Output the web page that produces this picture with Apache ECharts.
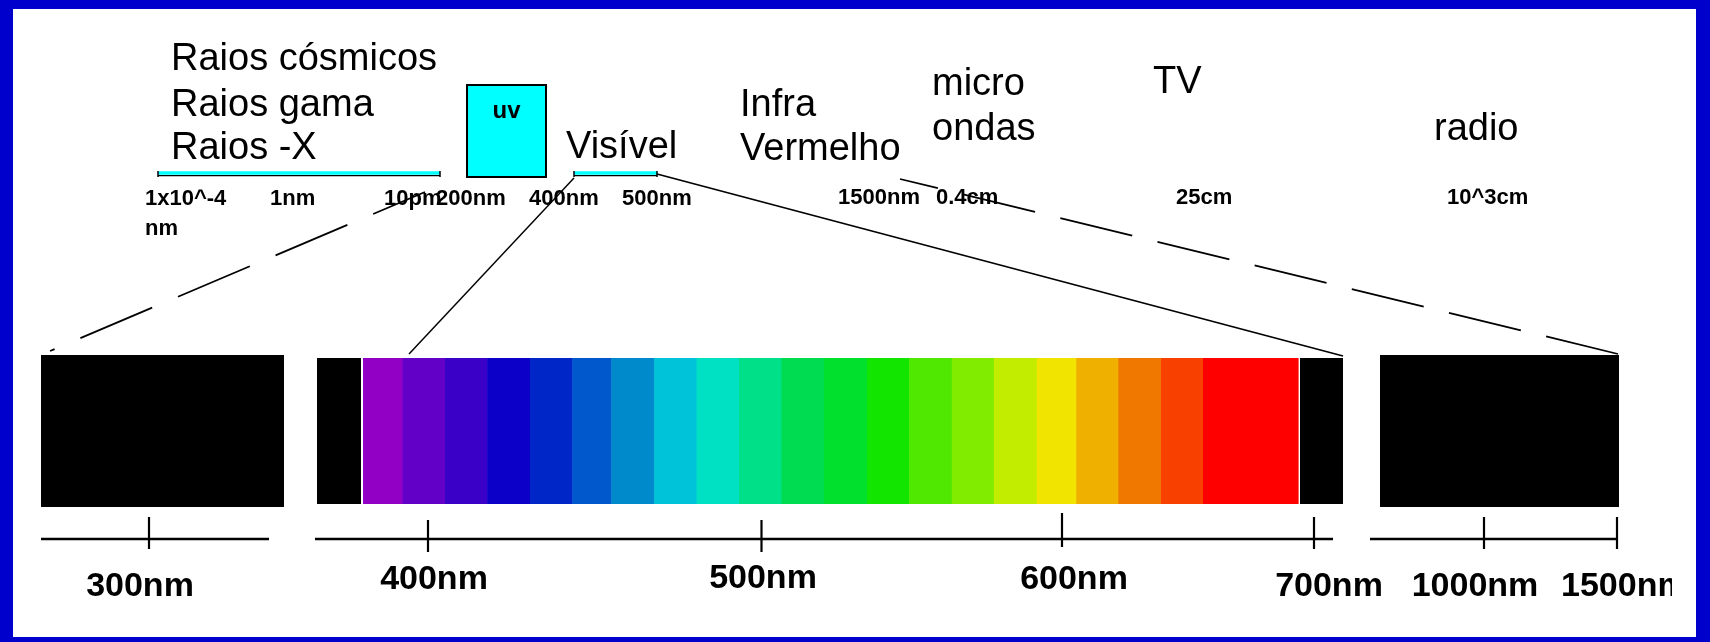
<!DOCTYPE html>
<html>
<head>
<meta charset="utf-8">
<script src="https://cdn.jsdelivr.net/npm/echarts@6/dist/echarts.min.js"></script>
<style>
html,body{margin:0;padding:0;background:#ffffff;}
#chart{width:1710px;height:642px;}
</style>
</head>
<body>
<div id="chart"></div>
<script>
// ---------------- DATA ----------------
// Names of the regions of the electromagnetic spectrum (upper part)
const regionNames = ['Raios cósmicos', 'Raios gama', 'Raios -X', 'Visível', 'Infra', 'Vermelho', 'micro', 'ondas', 'TV', 'radio'];
// Wavelength marks written under the upper scale
const wavelengthMarks = ['1x10^-4', 'nm', '1nm', '10pm', '200nm', '400nm', '500nm', '1500nm', '0.4cm', '25cm', '10^3cm'];
// Colours of the bands of the visible spectrum, violet to red
const spectrumColors = ['#9200c6', '#6200c8', '#3a00c8', '#0c00c8', '#0026c8', '#0058cc', '#008acc', '#00c2d8',
  '#00e0c2', '#00e088', '#00dc52', '#00e02c', '#12e600', '#50e800', '#82ec00', '#c2ec00', '#f0e400', '#f0b000',
  '#f07800', '#f84000', '#ff0000'];
// Labels of the lower scale
const scaleLabels = ['300nm', '400nm', '500nm', '600nm', '700nm', '1000nm', '1500nm'];
const uvLabel = 'uv';

// ---------------- LAYOUT (diagram units) ----------------
const regionPos = [[171, 60], [171, 106], [171, 149], [566, 148], [740, 106], [740, 150], [932, 85], [932, 130], [1153, 83], [1434, 130]];
const markPos = [[145, 199], [145, 229], [270, 199], [384, 199], [436, 199], [529, 199], [622, 199], [838, 198], [936, 198], [1176, 198], [1447, 198]];
const bandEdges = [363, 402.6, 445, 487.2, 530, 572.2, 611.2, 654.1, 696.6, 739, 781.5, 824, 866.9, 909, 951.8, 993.9, 1036.8, 1076.2, 1118.3, 1161, 1203, 1298];
const bandTop = 358, bandBottom = 504;
const blackBoxes = [[41, 355, 284, 507], [317, 358, 361, 504], [1300, 358, 1343, 504], [1380, 355, 1619, 507]];
const uvBox = [467, 85, 546, 177];
const scaleTickX = [149, 428, 761.5, 1062, 1314, 1484, 1617];
const scaleTickY = [[517, 549], [520, 552], [520, 552], [513, 547], [517, 549], [517, 549], [517, 549]];
const scaleLabelPos = [[140, 587, 'center'], [434, 580, 'center'], [763, 579, 'center'], [1074, 580, 'center'], [1329, 587, 'center'], [1475, 587, 'center'], [1561, 587, 'left']];
const axisLines = [[41, 539, 269, 539], [315, 539, 1333, 539], [1370, 539, 1618, 539]];
// connector lines: [x1,y1,x2,y2,width,dash,dashOffset]
const connectors = [
  [50, 351, 425, 192, 1.8, [78, 28], 73],
  [574, 178, 409, 354, 1.5, null, 0],
  [657, 174, 1343, 356, 1.8, null, 0],
  [1618, 354, 900, 179, 1.8, [74, 26], 0]
];
const cyanBars = [[158, 440], [574, 657]];
const cyanY = 173;

const FONT = "'Liberation Sans', Arial, Helvetica, sans-serif";

const chart = echarts.init(document.getElementById('chart'), null, {renderer: 'canvas'});

function rectFromCoords(api, x0, y0, x1, y1) {
  const a = api.coord([x0, y0]);
  const b = api.coord([x1, y1]);
  return {x: a[0], y: a[1], width: b[0] - a[0], height: b[1] - a[1]};
}

const option = {
  animation: false,
  backgroundColor: '#ffffff',
  grid: {left: 0, top: 0, width: 1672, height: 642, show: false},
  xAxis: {type: 'value', min: 0, max: 1672, show: false},
  yAxis: {type: 'value', min: 0, max: 642, inverse: true, show: false},
  graphic: [
    {type: 'rect', z: 100, shape: {x: 0, y: 0, width: 1710, height: 9}, style: {fill: '#0000cc'}},
    {type: 'rect', z: 100, shape: {x: 0, y: 0, width: 13, height: 642}, style: {fill: '#0000cc'}},
    {type: 'rect', z: 100, shape: {x: 1696, y: 0, width: 14, height: 642}, style: {fill: '#0000cc'}},
    {type: 'rect', z: 100, shape: {x: 0, y: 637, width: 1710, height: 5}, style: {fill: '#0000cc'}}
  ],
  series: [
    // visible spectrum bands
    {
      type: 'custom', clip: true, silent: true, z: 2,
      data: spectrumColors.map((c, i) => [bandEdges[i], bandEdges[i + 1]]),
      renderItem: function (params, api) {
        const s = rectFromCoords(api, api.value(0), bandTop, api.value(1), bandBottom);
        s.width += 0.6;
        return {type: 'rect', shape: s, style: {fill: spectrumColors[params.dataIndex]}};
      }
    },
    // black boxes (invisible parts)
    {
      type: 'custom', clip: true, silent: true, z: 2,
      data: blackBoxes,
      renderItem: function (params, api) {
        const s = rectFromCoords(api, api.value(0), api.value(1), api.value(2), api.value(3));
        return {type: 'rect', shape: s, style: {fill: '#000000'}};
      }
    },
    // UV box
    {
      type: 'custom', clip: true, silent: true, z: 3,
      data: [uvBox],
      renderItem: function (params, api) {
        const s = rectFromCoords(api, api.value(0), api.value(1), api.value(2), api.value(3));
        const c = api.coord([(api.value(0) + api.value(2)) / 2, 111]);
        return {type: 'group', children: [
          {type: 'rect', shape: s, style: {fill: '#00ffff', stroke: '#000000', lineWidth: 2}},
          {type: 'text', x: c[0], y: c[1], style: {text: uvLabel, fill: '#000000', font: 'bold 24px ' + FONT, align: 'center', verticalAlign: 'middle'}}
        ]};
      }
    },
    // cyan range bars
    {
      type: 'custom', clip: true, silent: true, z: 3,
      data: cyanBars,
      renderItem: function (params, api) {
        const a = api.coord([api.value(0), cyanY]);
        const b = api.coord([api.value(1), cyanY]);
        return {type: 'group', children: [
          {type: 'line', shape: {x1: a[0], y1: a[1], x2: b[0], y2: b[1]}, style: {stroke: '#00ffff', lineWidth: 3.5}},
          {type: 'line', shape: {x1: a[0], y1: a[1] + 2.6, x2: b[0], y2: b[1] + 2.6}, style: {stroke: '#000000', lineWidth: 1.4}},
          {type: 'line', shape: {x1: a[0], y1: a[1] - 2, x2: a[0], y2: a[1] + 4}, style: {stroke: '#000000', lineWidth: 1.5}},
          {type: 'line', shape: {x1: b[0], y1: b[1] - 2, x2: b[0], y2: b[1] + 4}, style: {stroke: '#000000', lineWidth: 1.5}}
        ]};
      }
    },
    // connector lines
    {
      type: 'custom', clip: true, silent: true, z: 4,
      data: connectors.map(c => [c[0], c[1], c[2], c[3]]),
      renderItem: function (params, api) {
        const c = connectors[params.dataIndex];
        const a = api.coord([api.value(0), api.value(1)]);
        const b = api.coord([api.value(2), api.value(3)]);
        const style = {stroke: '#000000', lineWidth: c[4]};
        if (c[5]) { style.lineDash = c[5]; style.lineDashOffset = c[6]; }
        return {type: 'line', shape: {x1: a[0], y1: a[1], x2: b[0], y2: b[1]}, style: style};
      }
    },
    // lower scale axis lines
    {
      type: 'custom', clip: true, silent: true, z: 4,
      data: axisLines,
      renderItem: function (params, api) {
        const a = api.coord([api.value(0), api.value(1)]);
        const b = api.coord([api.value(2), api.value(3)]);
        return {type: 'line', shape: {x1: a[0], y1: a[1], x2: b[0], y2: b[1]}, style: {stroke: '#000000', lineWidth: 2.5}};
      }
    },
    // lower scale ticks and labels
    {
      type: 'custom', clip: true, silent: true, z: 5,
      data: scaleLabels.map((l, i) => [scaleTickX[i], scaleTickY[i][0], scaleTickY[i][1], scaleLabelPos[i][0], scaleLabelPos[i][1]]),
      renderItem: function (params, api) {
        const a = api.coord([api.value(0), api.value(1)]);
        const b = api.coord([api.value(0), api.value(2)]);
        const t = api.coord([api.value(3), api.value(4)]);
        return {type: 'group', children: [
          {type: 'line', shape: {x1: a[0], y1: a[1], x2: b[0], y2: b[1]}, style: {stroke: '#000000', lineWidth: 2.2}},
          {type: 'text', x: t[0], y: t[1], style: {text: scaleLabels[params.dataIndex], fill: '#000000', font: 'bold 34px ' + FONT, align: scaleLabelPos[params.dataIndex][2], verticalAlign: 'middle'}}
        ]};
      }
    },
    // region names
    {
      type: 'custom', clip: true, silent: true, z: 6,
      data: regionPos,
      renderItem: function (params, api) {
        const p = api.coord([api.value(0), api.value(1)]);
        return {type: 'text', x: p[0], y: p[1], style: {text: regionNames[params.dataIndex], fill: '#000000', font: '38px ' + FONT, align: 'left', verticalAlign: 'middle'}};
      }
    },
    // wavelength marks on upper scale
    {
      type: 'custom', clip: true, silent: true, z: 6,
      data: markPos,
      renderItem: function (params, api) {
        const p = api.coord([api.value(0), api.value(1)]);
        return {type: 'text', x: p[0], y: p[1], style: {text: wavelengthMarks[params.dataIndex], fill: '#000000', font: 'bold 22px ' + FONT, align: 'left', verticalAlign: 'middle'}};
      }
    }
  ]
};
chart.setOption(option);
</script>
</body>
</html>
